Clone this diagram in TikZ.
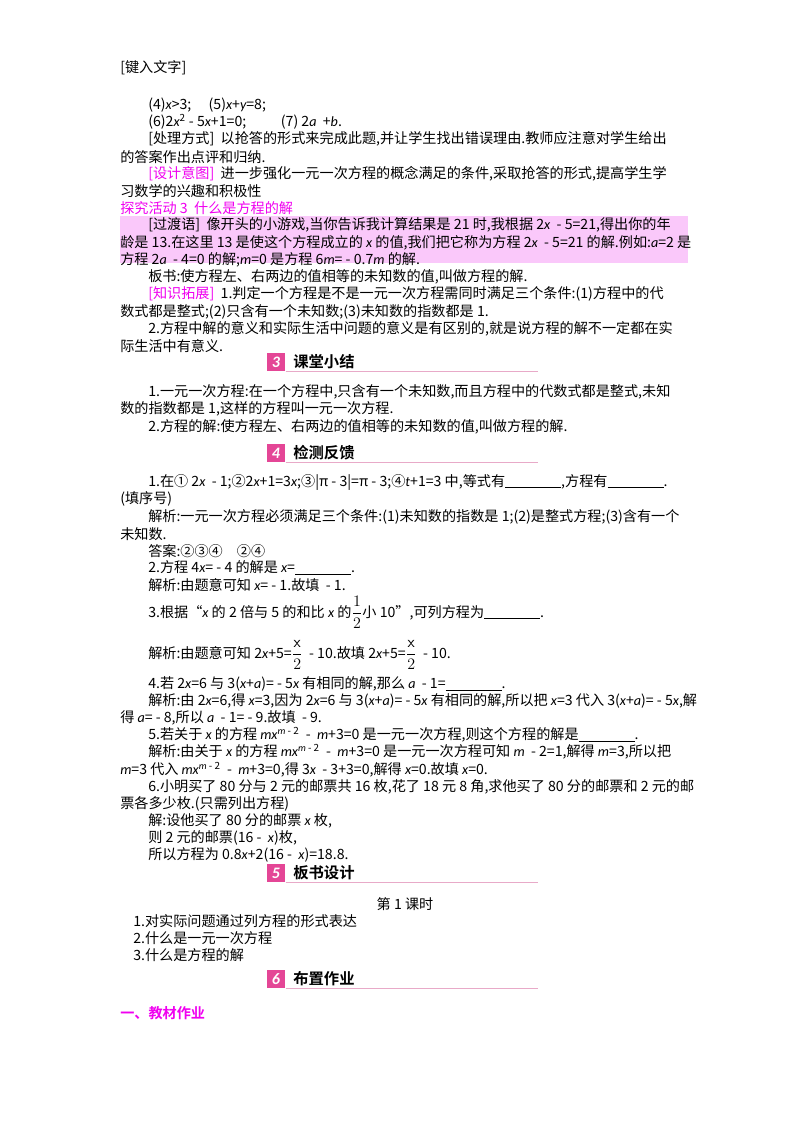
\documentclass[tikz,border=0pt]{standalone}
\usepackage{amsmath}
\usepackage{fontspec}
\setmainfont{Noto Sans CJK SC}[ItalicFont={Carlito Italic},BoldFont={Noto Sans CJK SC Bold}]
\newcommand\fs{\fontsize{10.6}{12}\selectfont}
\newcommand\vi[1]{{\itshape #1}}
\newcommand\blank{\rule[-1.5pt]{42pt}{0.5pt}}
\definecolor{mag}{RGB}{240,0,240}
\definecolor{pinkbg}{RGB}{250,200,250}
\definecolor{hdrsq}{RGB}{228,70,150}
\definecolor{hdrln}{RGB}{232,170,200}
\tikzset{t/.style={anchor=west,inner sep=0,font=\fs},
 hnum/.style={fill=hdrsq,text=white,font=\bfseries\itshape\fontsize{12}{12}\selectfont,minimum width=14pt,minimum height=14pt,inner sep=0},
 htit/.style={anchor=west,inner sep=0,font=\bfseries\fontsize{11.5}{12}\selectfont}}
\newcommand\hdr[4]{% name, y, number, title
 \node[hnum] (#1n) at (276,#2) {#3};
 \node[htit] (#1t) at (293,#2) {#4};
 \draw[hdrln,line width=1pt] (#1n.south east) -- ++(252,0) coordinate (#1e);}
\begin{document}
\begin{tikzpicture}[x=0.75pt,y=-0.75pt]
\useasboundingbox (0,0) rectangle (800,1132);
\fill[pinkbg] (120,216) rectangle (688,263);
\node[t] (l0) at (120,68) {[键入文字]};
\node[t] (l1) at (148,105) {(4)\vi{x}>3;\quad\ (5)\vi{x}+\vi{y}=8;};
\node[t] (l2) at (148,122) {(6)2\vi{x}\textsuperscript{2} - 5\vi{x}+1=0;\qquad\ \ (7)\ 2\vi{a}\ \ +\vi{b}.};
\node[t] (l3) at (148,139) {[处理方式]\ \ 以抢答的形式来完成此题,并让学生找出错误理由.教师应注意对学生给出};
\node[t] (l4) at (120,157) {的答案作出点评和归纳.};
\node[t] (l5) at (148,174) {\textcolor{mag}{[设计意图]}\ \ 进一步强化一元一次方程的概念满足的条件,采取抢答的形式,提高学生学};
\node[t] (l6) at (120,191) {习数学的兴趣和积极性};
\node[t,text=mag] (l7) at (120,208) {探究活动 3\ \ 什么是方程的解};
\node[t] (l8) at (148,225) {[过渡语]\ \ 像开头的小游戏,当你告诉我计算结果是 21 时,我根据 2\vi{x}\ \ - 5=21,得出你的年};
\node[t] (l9) at (120,243) {龄是 13.在这里 13 是使这个方程成立的 \vi{x} 的值,我们把它称为方程 2\vi{x}\ \ - 5=21 的解.例如:\vi{a}=2 是};
\node[t] (l10) at (120,260) {方程 2\vi{a}\ \ - 4=0 的解;\vi{m}=0 是方程 6\vi{m}= - 0.7\vi{m} 的解.};
\node[t] (l11) at (148,277) {板书:使方程左、右两边的值相等的未知数的值,叫做方程的解.};
\node[t] (l12) at (148,294) {\textcolor{mag}{[知识拓展]}\ \ 1.判定一个方程是不是一元一次方程需同时满足三个条件:(1)方程中的代};
\node[t] (l13) at (120,312) {数式都是整式;(2)只含有一个未知数;(3)未知数的指数都是 1.};
\node[t] (l14) at (148,329) {2.方程中解的意义和实际生活中问题的意义是有区别的,就是说方程的解不一定都在实};
\node[t] (l15) at (120,346) {际生活中有意义.};
\hdr{h3}{362}{3}{课堂小结}
\node[t] (m1) at (148,392) {1.一元一次方程:在一个方程中,只含有一个未知数,而且方程中的代数式都是整式,未知};
\node[t] (m2) at (120,409) {数的指数都是 1,这样的方程叫一元一次方程.};
\node[t] (m3) at (148,427) {2.方程的解:使方程左、右两边的值相等的未知数的值,叫做方程的解.};
\hdr{h4}{453}{4}{检测反馈}
\node[t] (q1) at (148,482) {1.在① 2\vi{x}\ \ - 1;②2\vi{x}+1=3\vi{x};③|π - 3|=π - 3;④\vi{t}+1=3 中,等式有\blank,方程有\blank.};
\node[t] (q2) at (120,499) {(填序号)};
\node[t] (q3) at (148,517) {解析:一元一次方程必须满足三个条件:(1)未知数的指数是 1;(2)是整式方程;(3)含有一个};
\node[t] (q4) at (120,534) {未知数.};
\node[t] (q5) at (148,551) {答案:②③④\quad ②④};
\node[t] (q6) at (148,568) {2.方程 4\vi{x}= - 4 的解是 \vi{x}=\blank.};
\node[t] (q7) at (148,585) {解析:由题意可知 \vi{x}= - 1.故填\ \ - 1.};
\node[t] (q8) at (148,612) {3.根据“\vi{x} 的 2 倍与 5 的和比 \vi{x} 的\large$\dfrac{1}{2}$\fs 小 10”,可列方程为\blank.};
\node[t] (q9) at (148,655) {解析:由题意可知 2\vi{x}+5=\large$\dfrac{\mathsf{x}}{2}$\fs\ \ - 10.故填 2\vi{x}+5=\large$\dfrac{\mathsf{x}}{2}$\fs\ \ - 10.};
\node[t] (q10) at (148,684) {4.若 2\vi{x}=6 与 3(\vi{x}+\vi{a})= - 5\vi{x} 有相同的解,那么 \vi{a}\ \ - 1=\blank.};
\node[t] (q11) at (148,701) {解析:由 2\vi{x}=6,得 \vi{x}=3,因为 2\vi{x}=6 与 3(\vi{x}+\vi{a})= - 5\vi{x} 有相同的解,所以把 \vi{x}=3 代入 3(\vi{x}+\vi{a})= - 5\vi{x},解};
\node[t] (q12) at (120,718) {得 \vi{a}= - 8,所以 \vi{a}\ \ - 1= - 9.故填\ \ - 9.};
\node[t] (q13) at (148,735) {5.若关于 \vi{x} 的方程 \vi{mx}\textsuperscript{\vi{m}\ - 2}\ \ -\ \ \vi{m}+3=0 是一元一次方程,则这个方程的解是\blank.};
\node[t] (q14) at (148,752) {解析:由关于 \vi{x} 的方程 \vi{mx}\textsuperscript{\vi{m}\ - 2}\ \ -\ \ \vi{m}+3=0 是一元一次方程可知 \vi{m}\ \ - 2=1,解得 \vi{m}=3,所以把};
\node[t] (q15) at (120,770) {\vi{m}=3 代入 \vi{mx}\textsuperscript{\vi{m}\ - 2}\ \ -\ \ \vi{m}+3=0,得 3\vi{x}\ \ - 3+3=0,解得 \vi{x}=0.故填 \vi{x}=0.};
\node[t] (q16) at (148,787) {6.小明买了 80 分与 2 元的邮票共 16 枚,花了 18 元 8 角,求他买了 80 分的邮票和 2 元的邮};
\node[t] (q17) at (120,804) {票各多少枚.(只需列出方程)};
\node[t] (q18) at (148,821) {解:设他买了 80 分的邮票 \vi{x} 枚,};
\node[t] (q19) at (148,838) {则 2 元的邮票(16 -\ \ \vi{x})枚,};
\node[t] (q20) at (148,855) {所以方程为 0.8\vi{x}+2(16 -\ \ \vi{x})=18.8.};
\hdr{h5}{873}{5}{板书设计}
\node[font=\fs,inner sep=0] (b0) at (405,904) {第 1 课时};
\node[t] (b1) at (133,921) {1.对实际问题通过列方程的形式表达};
\node[t] (b2) at (133,938) {2.什么是一元一次方程};
\node[t] (b3) at (133,955) {3.什么是方程的解};
\hdr{h6}{979}{6}{布置作业}
\node[t,text=mag,font=\fs\bfseries] (z1) at (120,1013) {一、教材作业};
\end{tikzpicture}
\end{document}
